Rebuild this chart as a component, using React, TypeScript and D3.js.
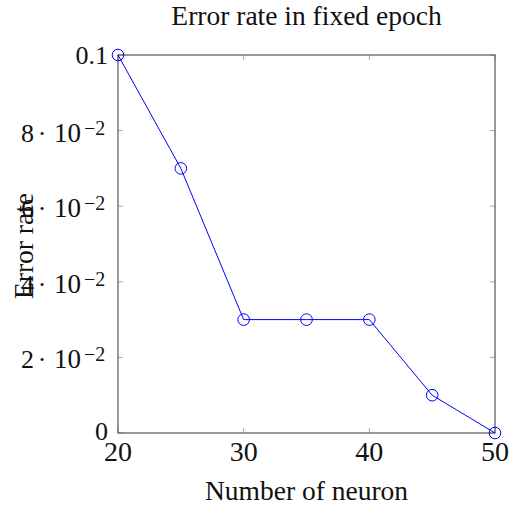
import React from "react";
import * as d3 from "d3";

const neurons = [20, 25, 30, 35, 40, 45, 50];
const errorRates = [0.1, 0.07, 0.03, 0.03, 0.03, 0.01, 0.0];
const xTicks = [20, 30, 40, 50];
const yTicks = [0, 0.02, 0.04, 0.06, 0.08, 0.1];
const yTickMantissa = ["0", "2", "4", "6", "8", "0.1"];

const W = 522;
const H = 508;
const M = { left: 118, right: 495, top: 55, bottom: 433 };

export default function App() {
  const x = d3.scaleLinear().domain([20, 50]).range([M.left, M.right]);
  const y = d3.scaleLinear().domain([0, 0.1]).range([M.bottom, M.top]);
  const line = d3
    .line<number>()
    .x((_, i) => x(neurons[i]))
    .y((d) => y(d));
  const serif = "'Liberation Serif', 'DejaVu Serif', serif";
  const tickLen = 5;
  return (
    <svg
      width={W}
      height={H}
      style={{ position: "absolute", left: 0, top: 0 }}
      fontFamily={serif}
    >
      <rect width={W} height={H} fill="white" />
      {xTicks.map((t) => (
        <g key={"xt" + t} stroke="#aaa" strokeWidth={1}>
          <line x1={x(t)} x2={x(t)} y1={M.bottom} y2={M.bottom - tickLen} />
          <line x1={x(t)} x2={x(t)} y1={M.top} y2={M.top + tickLen} />
        </g>
      ))}
      {yTicks.map((t) => (
        <g key={"yt" + t} stroke="#aaa" strokeWidth={1}>
          <line x1={M.left} x2={M.left + tickLen} y1={y(t)} y2={y(t)} />
          <line x1={M.right} x2={M.right - tickLen} y1={y(t)} y2={y(t)} />
        </g>
      ))}
      <rect
        x={M.left}
        y={M.top}
        width={M.right - M.left}
        height={M.bottom - M.top}
        fill="none"
        stroke="#555"
        strokeWidth={1.2}
      />
      {xTicks.map((t) => (
        <text
          key={"xl" + t}
          x={x(t)}
          y={M.bottom + 28}
          textAnchor="middle"
          fontSize={28}
          fill="#111"
        >
          {t}
        </text>
      ))}
      {yTicks.map((t, i) => {
        const plain = t === 0 || t === 0.1;
        if (plain) {
          return (
            <text
              key={"yl" + t}
              x={M.left - 10}
              y={y(t) + (t === 0 ? 7 : 9)}
              textAnchor="end"
              fontSize={26}
              fill="#111"
            >
              {yTickMantissa[i]}
            </text>
          );
        }
        return (
          <g
            key={"yl" + t}
            transform={`translate(${M.left - 10}, ${y(t) + 11})`}
            fill="#111"
          >
            <text x={-87} fontSize={26}>
              {yTickMantissa[i]}
            </text>
            <text x={-66} textAnchor="middle" fontSize={26}>
              ·
            </text>
            <text x={-54} fontSize={27}>
              10
            </text>
            <text x={-24} y={-7} fontSize={20}>
              −2
            </text>
          </g>
        );
      })}
      <path
        d={line(errorRates) || ""}
        fill="none"
        stroke="blue"
        strokeWidth={1}
      />
      {errorRates.map((v, i) => (
        <circle
          key={"c" + i}
          cx={x(neurons[i])}
          cy={y(v)}
          r={5.8}
          fill="none"
          stroke="blue"
          strokeWidth={1}
        />
      ))}
      <text
        x={(M.left + M.right) / 2}
        y={25}
        textAnchor="middle"
        fontSize={27.5}
        fill="#111"
      >
        Error rate in fixed epoch
      </text>
      <text
        x={(M.left + M.right) / 2}
        y={500}
        textAnchor="middle"
        fontSize={27.5}
        fill="#111"
      >
        Number of neuron
      </text>
      <text
        transform={`translate(33, ${(M.top + M.bottom) / 2 + 2}) rotate(-90)`}
        textAnchor="middle"
        fontSize={27.5}
        fill="#111"
      >
        Error rate
      </text>
    </svg>
  );
}
